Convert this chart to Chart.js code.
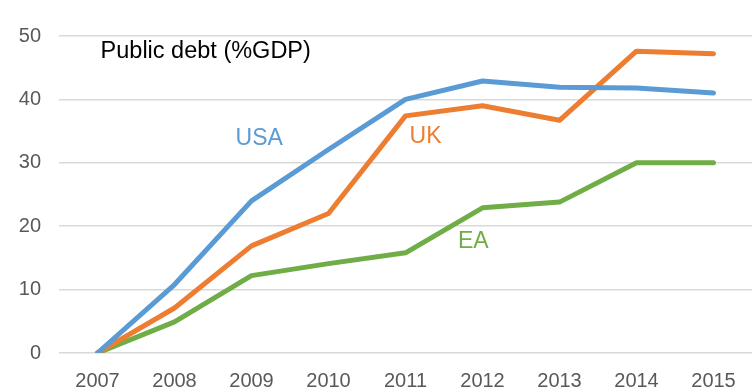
<!DOCTYPE html>
<html>
<head>
<meta charset="utf-8">
<script src="https://cdn.jsdelivr.net/npm/chart.js@4/dist/chart.umd.min.js"></script>
<style>
  html, body { margin: 0; padding: 0; background: #fff; }
  #wrap { width: 753px; height: 390px; }
</style>
</head>
<body>
<div id="wrap"><canvas id="chart" width="753" height="390"></canvas></div>
<script>
// Public debt, change since 2007 (% of GDP)
const years = ['2007', '2008', '2009', '2010', '2011', '2012', '2013', '2014', '2015'];
const usa = [0, 10.8, 24.0, 32.1, 40.0, 42.9, 41.9, 41.8, 41.0];
const uk  = [0, 7.1, 16.9, 22.0, 37.4, 39.0, 36.7, 47.6, 47.2];
const ea  = [0, 4.9, 12.2, 14.1, 15.8, 22.9, 23.8, 30.0, 30.0];

// Text placed inside the plot, in axis units (category index, value)
const notes = [
    { text: 'Public debt (%GDP)', x: 0.04, y: 47.6, color: '#000000', align: 'left', size: 23.5 },
    { text: 'USA', x: 2.1, y: 33.8, color: '#5B9BD5', align: 'center', size: 23 },
    { text: 'UK', x: 4.26, y: 34.2, color: '#ED7D31', align: 'center', size: 23 },
    { text: 'EA', x: 4.88, y: 17.6, color: '#70AD47', align: 'center', size: 23 },
];

const notesPlugin = {
    id: 'notes',
    afterDatasetsDraw(chart) {
        const { ctx, scales: { x, y } } = chart;
        const step = x.getPixelForValue(1) - x.getPixelForValue(0);
        ctx.save();
        ctx.textBaseline = 'middle';
        notes.forEach(n => {
            ctx.font = n.size + 'px "Liberation Sans", Arial, sans-serif';
            ctx.fillStyle = n.color;
            ctx.textAlign = n.align;
            ctx.fillText(n.text, x.getPixelForValue(0) + n.x * step, y.getPixelForValue(n.y));
        });
        ctx.restore();
    }
};

const line = (label, data, color) => ({
    label, data,
    borderColor: color,
    backgroundColor: color,
    borderWidth: 5,
    borderCapStyle: 'round',
    borderJoinStyle: 'round',
    pointRadius: 0,
    tension: 0,
    fill: false,
});

new Chart(document.getElementById('chart'), {
    type: 'line',
    data: {
        labels: years,
        datasets: [
            line('USA', usa, '#5B9BD5'),
            line('UK', uk, '#ED7D31'),
            line('EA', ea, '#70AD47'),
        ],
    },
    options: {
        responsive: false,
        animation: false,
        layout: { padding: { top: 36, right: 1, left: 0, bottom: 0 } },
        plugins: { legend: { display: false }, tooltip: { enabled: false } },
        scales: {
            x: {
                offset: true,
                grid: { display: false },
                border: { display: false },
                ticks: {
                    color: '#595959',
                    font: { family: '"Liberation Sans", Arial, sans-serif', size: 20 },
                    padding: 8,
                    maxRotation: 0,
                },
                afterFit(scale) { scale.height = 37; },
            },
            y: {
                min: 0,
                max: 50,
                ticks: {
                    stepSize: 10,
                    color: '#595959',
                    font: { family: '"Liberation Sans", Arial, sans-serif', size: 20 },
                    padding: 18,
                },
                grid: { color: '#D9D9D9', lineWidth: 1.5, drawTicks: false },
                border: { display: false },
                afterFit(scale) { scale.width = 59; },
            },
        },
    },
    plugins: [notesPlugin],
});
</script>
</body>
</html>
